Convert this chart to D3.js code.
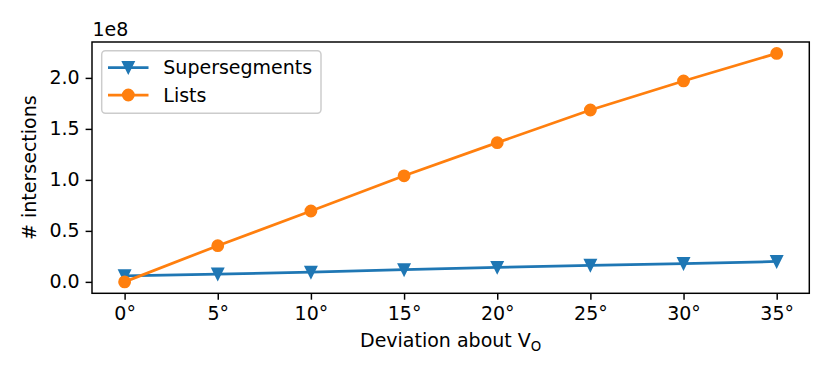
<!DOCTYPE html>
<html>
<head>
<meta charset="utf-8">
<script src="https://cdn.jsdelivr.net/npm/d3@7/dist/d3.min.js"></script>
<style>
  html, body { margin: 0; padding: 0; background: #fff; }
  svg { display: block; font-family: "DejaVu Sans", sans-serif; }
</style>
</head>
<body>
<svg id="chart"></svg>
<script>
// ---------------------------
// Intersections vs deviation
// ---------------------------

const width = 830;
const height = 381;

// data (values in units of 1e8)
const deviations = [0, 5, 10, 15, 20, 25, 30, 35];
const supersegments = [0.06, 0.077, 0.095, 0.12, 0.143, 0.163, 0.18, 0.2];
const lists = [0.0, 0.355, 0.695, 1.04, 1.365, 1.685, 1.97, 2.24];
const yTicks = [0.0, 0.5, 1.0, 1.5, 2.0];
const seriesNames = ["Supersegments", "Lists"];

const blue = "#1f77b4";
const orange = "#ff7f0e";
const fontSize = 19;

// axes box (pixels)
const box = { left: 92, right: 809.3, top: 42, bottom: 293.3 };

const svg = d3.select("#chart")
    .attr("width", width)
    .attr("height", height);

// scales with matplotlib style 5% margins
const xScale = d3.scaleLinear().domain([-1.75, 36.75]).range([box.left, box.right]);
const yMax = d3.max(lists), yMin = 0;
const yPad = (yMax - yMin) * 0.05;
const yScale = d3.scaleLinear().domain([yMin - yPad, yMax + yPad]).range([box.bottom, box.top]);

// axes
const xAxis = d3.axisBottom(xScale)
    .tickValues(deviations)
    .tickSize(6.4)
    .tickPadding(6)
    .tickFormat(d => d + "°");
const yAxis = d3.axisLeft(yScale)
    .tickValues(yTicks)
    .tickSize(6.4)
    .tickPadding(6)
    .tickFormat(d => d.toFixed(1));

const gx = svg.append("g")
    .attr("transform", `translate(0,${box.bottom})`)
    .call(xAxis);
const gy = svg.append("g")
    .attr("transform", `translate(${box.left},0)`)
    .call(yAxis);

[gx, gy].forEach(g => {
    g.select(".domain").remove();
    g.selectAll(".tick line").attr("stroke", "#000").attr("stroke-width", 1.47);
    g.selectAll(".tick text")
        .attr("fill", "#000")
        .style("font-size", fontSize + "px")
        .style("font-family", "DejaVu Sans");
});
gx.selectAll(".tick text").attr("dy", "0.74em");

// frame
svg.append("rect")
    .attr("x", box.left).attr("y", box.top)
    .attr("width", box.right - box.left).attr("height", box.bottom - box.top)
    .attr("fill", "none")
    .attr("stroke", "#000")
    .attr("stroke-width", 1.47);

// offset text
svg.append("text")
    .attr("x", box.left + 0.5).attr("y", 36)
    .style("font-size", fontSize + "px")
    .text("1e8");

// axis labels
const xlab = svg.append("text")
    .attr("x", (box.left + box.right) / 2)
    .attr("y", 347.3)
    .attr("text-anchor", "middle")
    .style("font-size", fontSize + "px");
xlab.append("tspan").text("Deviation about V");
xlab.append("tspan").attr("dy", 4).style("font-size", (fontSize * 0.7) + "px").text("O");

svg.append("text")
    .attr("transform", `translate(35.5,${(box.top + box.bottom) / 2}) rotate(-90)`)
    .attr("text-anchor", "middle")
    .style("font-size", fontSize + "px")
    .text("# intersections");

// markers
const ms = 11;   // marker size in px
function triangleDown(cx, cy) {
    const h = ms / 2;
    return `M${cx},${cy + h}L${cx - h},${cy - h}L${cx + h},${cy - h}Z`;
}

const plot = svg.append("g");
const line = d3.line()
    .x((d, i) => xScale(deviations[i]))
    .y(d => yScale(d));

function drawSeries(values, color, marker) {
    plot.append("path")
        .datum(values)
        .attr("d", line)
        .attr("fill", "none")
        .attr("stroke", color)
        .attr("stroke-width", 2.75)
        .attr("stroke-linejoin", "round");
    values.forEach((v, i) => {
        const cx = xScale(deviations[i]), cy = yScale(v);
        if (marker === "v") {
            plot.append("path")
                .attr("d", triangleDown(cx, cy))
                .attr("fill", color).attr("stroke", color).attr("stroke-width", 1.83)
                .attr("stroke-linejoin", "miter");
        } else {
            plot.append("circle")
                .attr("cx", cx).attr("cy", cy).attr("r", ms / 2)
                .attr("fill", color).attr("stroke", color).attr("stroke-width", 1.83);
        }
    });
}

drawSeries(supersegments, blue, "v");
drawSeries(lists, orange, "o");

// legend
const legend = svg.append("g");
legend.append("rect")
    .attr("x", 101.7).attr("y", 50.7)
    .attr("width", 321 - 101.7).attr("height", 113.3 - 50.7)
    .attr("rx", 3.7)
    .attr("fill", "#fff").attr("fill-opacity", 0.8)
    .attr("stroke", "#cccccc").attr("stroke-width", 1.47);

const rows = [
    { name: seriesNames[0], color: blue, marker: "v", y: 67.5 },
    { name: seriesNames[1], color: orange, marker: "o", y: 95 }
];
rows.forEach(r => {
    legend.append("line")
        .attr("x1", 108).attr("x2", 148.5)
        .attr("y1", r.y).attr("y2", r.y)
        .attr("stroke", r.color).attr("stroke-width", 2.75);
    if (r.marker === "v") {
        legend.append("path")
            .attr("d", triangleDown(128.3, r.y))
            .attr("fill", r.color).attr("stroke", r.color).attr("stroke-width", 1.83);
    } else {
        legend.append("circle")
            .attr("cx", 128.3).attr("cy", r.y).attr("r", ms / 2)
            .attr("fill", r.color).attr("stroke", r.color).attr("stroke-width", 1.83);
    }
    legend.append("text")
        .attr("x", 163.3).attr("y", r.y + 6.8)
        .style("font-size", fontSize + "px")
        .text(r.name);
});
</script>
</body>
</html>
